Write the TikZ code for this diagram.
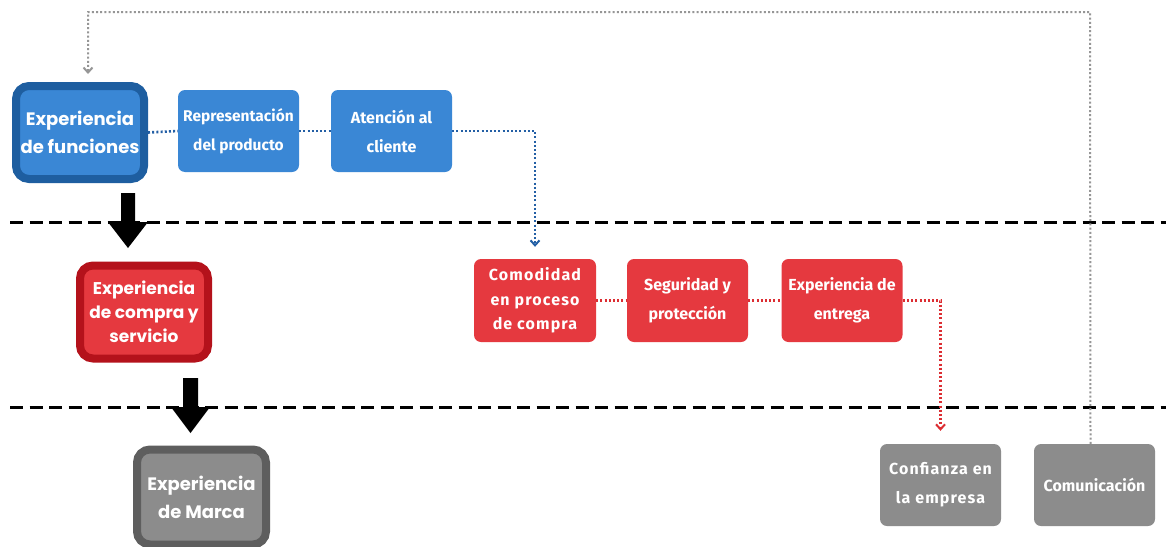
\documentclass[tikz,border=0pt]{standalone}
\usepackage{fontspec}
\setmainfont{Poppins}
\newfontfamily\boxfont{Fira Sans}
\usetikzlibrary{arrows.meta}
\definecolor{bluefill}{RGB}{58,135,213}
\definecolor{blueedge}{RGB}{30,94,160}
\definecolor{redfill}{RGB}{229,57,63}
\definecolor{rededge}{RGB}{180,18,27}
\definecolor{grayfill}{RGB}{140,140,140}
\definecolor{grayedge}{RGB}{94,94,94}
\definecolor{linkblue}{RGB}{35,95,165}
\definecolor{linkred}{RGB}{220,45,50}
\definecolor{linkgray}{RGB}{150,150,150}
\tikzset{
  mainbox/.style={draw, line width=8pt, rounded corners=13pt, align=center,
    text=white, font=\bfseries\fontsize{18}{28}\selectfont,
    minimum width=128pt, minimum height=93pt, inner sep=0pt},
  subbox/.style={rounded corners=7pt, align=center, text=white,
    font=\boxfont\bfseries\fontsize{16}{29}\selectfont,
    minimum width=121pt, minimum height=82pt, inner sep=0pt},
  link/.style={line width=2.6pt, dash pattern=on 2pt off 2.2pt},
  tip/.style={-{Straight Barb[length=5pt,width=9pt,line width=2pt]}},
  levelline/.style={line width=3pt, dash pattern=on 13pt off 6.5pt},
  blockarrow/.style={fill=black}
}
\begin{document}
\begin{tikzpicture}[x=1pt,y=-1pt]
\useasboundingbox[fill=white] (0,0) rectangle (1166,546);

% level separators
\draw[levelline] (10,222) -- (1166,222);
\draw[levelline] (10,407) -- (1166,407);

% main experience levels
\node[mainbox, draw=blueedge, fill=bluefill] (func) at (80,132.5) {Experiencia\\de funciones};
\node[mainbox, draw=rededge, fill=redfill, font=\bfseries\fontsize{17}{24}\selectfont] (compra) at (144,312) {Experiencia\\de compra y\\servicio};
\node[mainbox, draw=grayedge, fill=grayfill, minimum width=129pt, minimum height=95pt] (marca) at (201.5,497) {Experiencia\\de Marca};

% function level items
\node[subbox, fill=bluefill, font=\boxfont\bfseries\fontsize{15.5}{29}\selectfont] (repr) at (238.5,131) {Representación\\del producto};
\node[subbox, fill=bluefill] (aten) at (391.5,131) {Atención al\\cliente};

% purchase level items
\node[subbox, fill=redfill, minimum width=122pt, minimum height=83pt, font=\boxfont\bfseries\fontsize{16}{24.5}\selectfont] (comod) at (535,300.5) {\addfontfeatures{LetterSpace=7}Comodidad\\\addfontfeatures{LetterSpace=7}en proceso\\\addfontfeatures{LetterSpace=7}de compra};
\node[subbox, fill=redfill, minimum height=83pt] (segur) at (687.5,300.5) {Seguridad y\\protección};
\node[subbox, fill=redfill, minimum height=83pt] (entre) at (842,300.5) {Experiencia de\\entrega};

% brand level items
\node[subbox, fill=grayfill] (confi) at (940.5,485) {\addfontfeatures{LetterSpace=7}Confianza en\\\addfontfeatures{LetterSpace=7}la empresa};
\node[subbox, fill=grayfill] (comun) at (1094.5,485) {Comunicación};

% dotted links
\draw[link, linkblue] (func.east) -- (repr.west);
\draw[link, linkblue] (repr.east) -- (aten.west);
\draw[link, linkblue, tip, shorten >=12pt] (aten.east) -| (comod.north);
\draw[link, linkred] (comod.east) -- (segur.west);
\draw[link, linkred] (segur.east) -- (entre.west);
\draw[link, linkred, tip, shorten >=13pt] (entre.east) -| (confi.north);
\coordinate (ret1) at ([xshift=-4pt]comun.north);
\coordinate (ret2) at (1090,12);
\coordinate (ret3) at (88,12);
\coordinate (ret4) at ([xshift=8pt]func.north);
\draw[link, linkgray, line width=2pt, tip, shorten >=8pt] (ret1) -- (ret2) -- (ret3) -- (ret4);

% level transition arrows
\fill[blockarrow] (121,193) -- (135,193) -- (135,222) -- (148,222) -- (128,248) -- (108,222) -- (121,222) -- cycle;
\fill[blockarrow] (183,378) -- (198,378) -- (198,407) -- (210,407) -- (190.5,433) -- (171,407) -- (183,407) -- cycle;
\end{tikzpicture}
\end{document}
